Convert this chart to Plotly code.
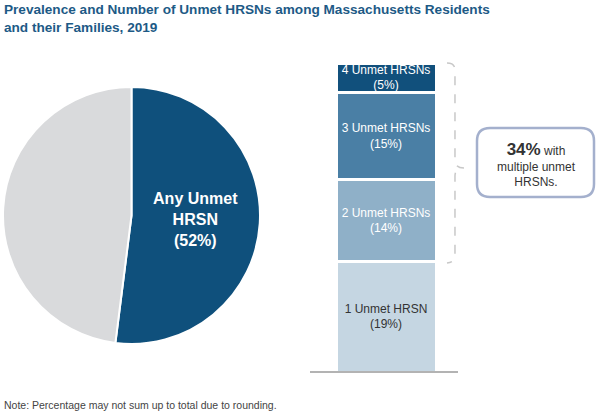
import plotly.graph_objects as go

W, H = 600, 414

pie_labels = ["Any Unmet HRSN", "No Unmet HRSN"]
pie_values = [52, 48]
pie_text = ["Any Unmet<br>HRSN<br>(52%)", ""]
pie_colors = ["#0f507c", "#d9dadc"]

bar_cats = ["1 Unmet HRSN", "2 Unmet HRSNs", "3 Unmet HRSNs", "4 Unmet HRSNs"]
bar_values = [19, 14, 15, 5]
bar_colors = ["#c5d6e2", "#8fb0c8", "#4a7fa5", "#11507c"]
bar_text_colors = ["#333333", "white", "white", "white"]
multiple_pct = 34

FONT = "Liberation Sans, Arial, sans-serif"


def px(x, y):
    # pixel position -> paper fraction
    return x / W, 1 - y / H


def path_from(points):
    out = ""
    for cmd, x, y in points:
        fx, fy = px(x, y)
        out += f"{cmd} {fx:.4f},{fy:.4f} "
    return out


fig = go.Figure()

pie_x0, pie_y0 = px(3, 344)
pie_x1, pie_y1 = px(260, 87)
fig.add_trace(
    go.Pie(
        labels=pie_labels,
        values=pie_values,
        text=pie_text,
        textinfo="text",
        textposition="inside",
        insidetextorientation="horizontal",
        sort=False,
        direction="clockwise",
        rotation=0,
        marker=dict(colors=pie_colors, line=dict(color="white", width=2)),
        textfont=dict(family=FONT, size=16, color="white", weight="bold"),
        domain=dict(x=[pie_x0, pie_x1], y=[pie_y0, pie_y1]),
        hoverinfo="label+percent",
        showlegend=False,
    )
)

for cat, val, col, tcol in zip(bar_cats, bar_values, bar_colors, bar_text_colors):
    fig.add_trace(
        go.Bar(
            x=["all"],
            y=[val],
            name=cat,
            width=1,
            marker=dict(color=col, line=dict(color="white", width=3)),
            text=[f"{cat}<br>({val}%)"],
            textposition="inside",
            insidetextanchor="middle",
            textangle=0,
            textfont=dict(family=FONT, size=12, color=tcol),
            showlegend=False,
        )
    )

bx0, by0 = px(336, 372)
bx1, by1 = px(436, 63)
fig.update_layout(
    barmode="stack",
    width=W,
    height=H,
    margin=dict(l=0, r=0, t=0, b=0),
    paper_bgcolor="white",
    plot_bgcolor="white",
    uniformtext=dict(minsize=12, mode="show"),
    xaxis=dict(domain=[bx0, bx1], range=[-0.5, 0.5], visible=False),
    yaxis=dict(domain=[by0, by1], range=[0, sum(bar_values)], visible=False),
    font=dict(family=FONT),
)

# baseline under the stacked bar
lx0, ly = px(310, 372)
lx1, _ = px(458, 372)
fig.add_shape(type="line", xref="paper", yref="paper", x0=lx0, x1=lx1, y0=ly, y1=ly,
              line=dict(color="#9a9a9a", width=1.5))

# dashed brace
brace = path_from([
    ("M", 447, 63), ("Q", 455, 63), ("", 455, 70),
    ("L", 455, 160), ("Q", 455, 168), ("", 464, 168),
    ("Q", 455, 168), ("", 455, 176),
    ("L", 455, 256), ("Q", 455, 262), ("", 447, 263),
])
fig.add_shape(type="path", xref="paper", yref="paper", path=brace,
              line=dict(color="#c8c8c8", width=1.5, dash="dash"))

# callout box
x0, y0, x1, y1, r = 477, 128, 594, 197, 13
box = path_from([
    ("M", x0 + r, y0), ("L", x1 - r, y0), ("Q", x1, y0), ("", x1, y0 + r),
    ("L", x1, y1 - r), ("Q", x1, y1), ("", x1 - r, y1),
    ("L", x0 + r, y1), ("Q", x0, y1), ("", x0, y1 - r),
    ("L", x0, y0 + r), ("Q", x0, y0), ("", x0 + r, y0),
]) + "Z"
fig.add_shape(type="path", xref="paper", yref="paper", path=box,
              line=dict(color="#a4b0cd", width=2.5), fillcolor="white")

cx, cy = px(536, 164)
fig.add_annotation(
    xref="paper", yref="paper", x=cx, y=cy, xanchor="center", yanchor="middle",
    showarrow=False, align="center",
    text=f"<b><span style='font-size:17px'>{multiple_pct}%</span></b> with<br>multiple unmet<br>HRSNs.",
    font=dict(family=FONT, size=12, color="#333333"),
)

fig.add_annotation(
    xref="paper", yref="paper", x=0.003, y=1, xanchor="left", yanchor="top",
    align="left", showarrow=False,
    text="<b>Prevalence and Number of Unmet HRSNs among Massachusetts Residents<br>and their Families, 2019</b>",
    font=dict(family=FONT, size=13.6, color="#1d5a86"),
)

nx, ny = px(2, 405)
fig.add_annotation(
    xref="paper", yref="paper", x=nx, y=ny, xanchor="left", yanchor="middle",
    showarrow=False, text="Note: Percentage may not sum up to total due to rounding.",
    font=dict(family=FONT, size=10.5, color="#444444"),
)

fig.write_html(
    "out.html",
    config={"displayModeBar": False},
    post_script="document.body.style.margin='0';",
)
